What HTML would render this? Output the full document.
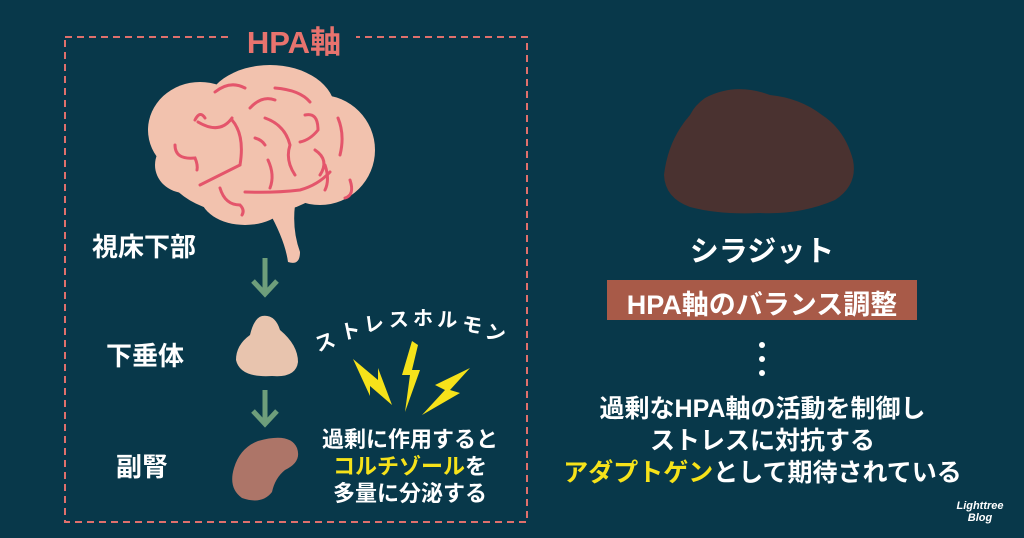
<!DOCTYPE html>
<html><head><meta charset="utf-8"><style>
body{margin:0;width:1024px;height:538px;background:#08384a;overflow:hidden;position:relative;font-family:"Liberation Sans","Noto Sans CJK JP",sans-serif;font-weight:bold;color:#fff}
.t{position:absolute;white-space:nowrap}
.y{color:#f6e21a}
</style></head><body>
<svg width="1024" height="538" style="position:absolute;left:0;top:0">
<rect x="65" y="37" width="462" height="485" fill="none" stroke="#e0706c" stroke-width="2" stroke-dasharray="7,5"/>
<rect x="232" y="20" width="124" height="34" fill="#08384a"/>
<!-- brain -->
<g fill="#f2c2ae">
<ellipse cx="200" cy="130" rx="52" ry="48"/>
<ellipse cx="270" cy="110" rx="65" ry="45"/>
<ellipse cx="320" cy="150" rx="55" ry="55"/>
<ellipse cx="250" cy="165" rx="85" ry="50"/>
<ellipse cx="185" cy="165" rx="30" ry="28"/>
<ellipse cx="245" cy="195" rx="45" ry="30"/>
<path d="M268 210 Q285 240 288 262 Q300 266 300 252 Q292 230 295 205 Z"/>
</g>
<g fill="none" stroke="#e4556b" stroke-width="3" stroke-linecap="round">
<path d="M215 92 Q230 80 245 88"/><path d="M275 88 Q300 90 310 102"/>
<path d="M250 108 Q262 95 275 100"/><path d="M195 120 Q200 110 205 118"/>
<path d="M198 122 Q220 135 232 118"/><path d="M232 120 Q245 135 240 165 Q220 175 200 185"/>
<path d="M265 118 Q285 125 290 145 Q285 160 295 175"/><path d="M305 115 Q318 112 318 130 Q310 140 300 142"/>
<path d="M338 118 Q345 135 340 155"/><path d="M175 145 Q175 160 195 158 Q198 165 197 170"/>
<path d="M255 138 Q262 140 265 145"/><path d="M268 160 Q275 175 270 188"/>
<path d="M315 150 Q330 160 320 175"/><path d="M245 192 Q275 193 300 190 Q318 185 330 172"/>
<path d="M220 188 Q225 205 240 205 Q245 210 242 215"/><path d="M350 180 Q355 195 345 198"/>
<path d="M325 165 Q330 180 325 190"/>
</g>
<!-- arrows -->
<g stroke="#6e9e7b" stroke-width="5" fill="none">
<path d="M265 258 V293 M253 281 L265 294 L277 281"/>
<path d="M265 390 V423 M253 411 L265 424 L277 411"/>
</g>
<path d="M262 316 Q275 314 280 330 Q298 345 298 362 Q296 378 272 376 Q240 378 236 360 Q236 345 250 335 Q254 318 262 316Z" fill="#e8c4ae"/>
<path d="M258 441 Q290 432 297 448 Q302 462 285 470 Q275 478 272 492 Q262 505 242 498 Q228 488 234 468 Q240 448 258 441Z" fill="#ad7568"/>
<!-- lightning -->
<g fill="#f6e21a">
<path d="M353 359 L378 380 L378 368 L392 405 L370 386 L370 396 Z"/>
<path d="M412 341 L402 375 L410 375 L405 412 L420 370 L412 370 L418 345Z"/>
<path d="M470 368 L435 385 L445 390 L422 415 L460 393 L450 390Z"/>
</g>
<!-- rock -->
<path d="M705 98 Q735 82 770 95 Q800 98 822 115 Q845 130 853 160 Q858 185 835 200 Q800 215 760 213 Q720 215 690 207 Q665 198 664 175 Q668 140 690 115 Q695 105 705 98Z" fill="#4a3230"/>
<rect x="607" y="280" width="310" height="40" fill="#a85a48"/>
<g fill="#fff"><circle cx="762" cy="345" r="3"/><circle cx="762" cy="359" r="3"/><circle cx="762" cy="373" r="3"/></g>
<text font-size="20" fill="#fff" font-family="Liberation Sans,Noto Sans CJK JP,sans-serif" font-weight="bold">
<tspan x="318" y="352" rotate="-20">ス</tspan><tspan x="342" y="340" rotate="-12">ト</tspan><tspan x="365" y="332" rotate="-8">レ</tspan><tspan x="389" y="327" rotate="-3">ス</tspan><tspan x="413" y="325">ホ</tspan><tspan x="437" y="326" rotate="4">ル</tspan><tspan x="461" y="330" rotate="10">モ</tspan><tspan x="484" y="337" rotate="16">ン</tspan></text>
</svg>
<div class="t" style="left:232px;top:17px;width:124px;text-align:center;font-size:31px;color:#e8736e">HPA軸</div>
<div class="t" style="left:92px;top:227px;font-size:26px">視床下部</div>
<div class="t" style="left:106px;top:336px;font-size:26px">下垂体</div>
<div class="t" style="left:116px;top:447px;font-size:26px">副腎</div>
<div class="t" style="left:300px;top:426px;width:220px;text-align:center;font-size:22px;line-height:27px">過剰に作用すると<br><span class="y">コルチゾール</span>を<br>多量に分泌する</div>
<div class="t" style="left:612px;top:228px;width:300px;text-align:center;font-size:29px">シラジット</div>
<div class="t" style="left:607px;top:283px;width:310px;text-align:center;font-size:27px">HPA軸のバランス調整</div>
<div class="t" style="left:520px;top:393px;width:485px;text-align:center;font-size:25px;line-height:32px">過剰なHPA軸の活動を制御し<br>ストレスに対抗する<br><span class="y">アダプトゲン</span>として期待されている</div>
<div class="t" style="left:945px;top:500px;width:70px;text-align:center;font-size:11px;font-style:italic;line-height:12px">Lighttree<br>Blog</div>
</body></html>
